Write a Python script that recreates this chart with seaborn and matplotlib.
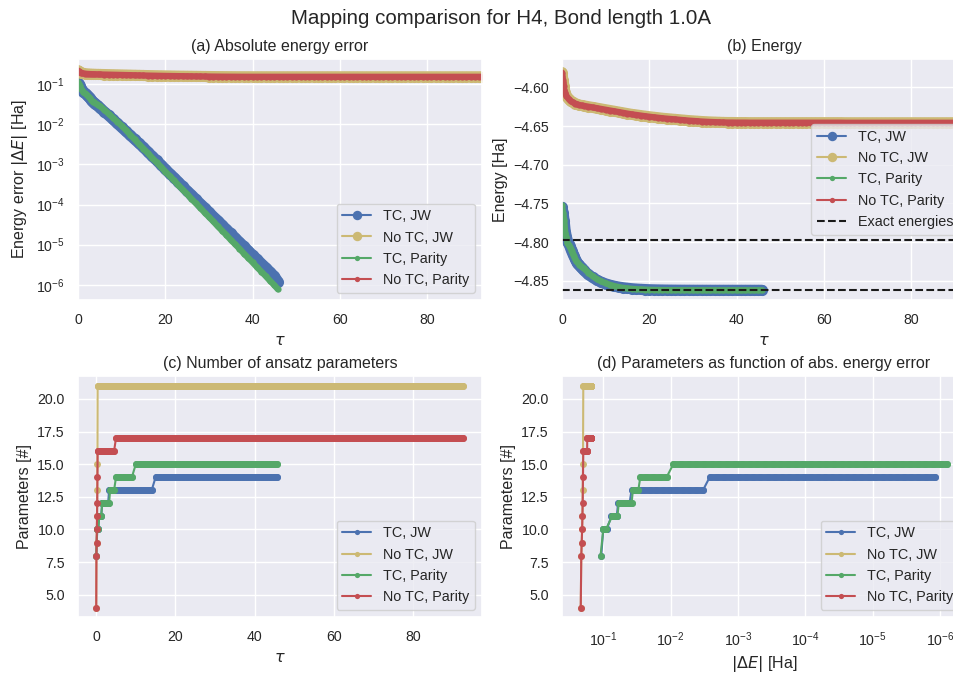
import matplotlib
matplotlib.use("Agg")
import numpy as np
import matplotlib.pyplot as plt
import seaborn as sns

sns.set_theme(style="darkgrid")
plt.rcParams["font.family"] = ["Liberation Sans", "DejaVu Sans"]
plt.rcParams.update({
    "axes.titlesize": 11.5,
    "axes.labelsize": 11.5,
    "xtick.labelsize": 10.2,
    "ytick.labelsize": 10.2,
    "legend.fontsize": 10.4,
})

# ---------------- data ----------------
# tau grid of the transcorrelated (TC) runs
tau_tc = [0, 0.25, 0.5, 0.75, 1, 1.25, 1.5, 1.75, 2, 2.25, 2.5, 2.75, 3, 3.25,
          3.5, 3.75, 4, 4.25, 4.5,
          5, 6, 7, 8, 9, 10, 11, 12, 13, 14, 15, 16, 17, 18, 19, 20, 21, 22,
          23, 24, 25, 26, 27, 28, 29, 30, 31, 32, 33, 34, 35, 36, 37, 38, 39,
          40, 41, 42, 43, 44, 45, 45.8]

# log10 |dE| for TC, JW
logerr_tc_jw = [-0.97, -1.00, -1.05, -1.12, -1.16, -1.20, -1.22, -1.24, -1.27,
                -1.30, -1.33, -1.36, -1.39, -1.42, -1.45, -1.47, -1.49, -1.52,
                -1.54,
                -1.59, -1.69, -1.78, -1.88, -1.98, -2.08, -2.18, -2.28, -2.38, -2.48,
                -2.58, -2.69, -2.80, -2.90, -3.01, -3.12, -3.23, -3.33, -3.44, -3.55,
                -3.66, -3.76, -3.87, -3.98, -4.08, -4.19, -4.30, -4.40, -4.51, -4.62,
                -4.72, -4.83, -4.94, -5.04, -5.15, -5.26, -5.36, -5.47, -5.57, -5.68,
                -5.79, -5.92]

# log10 |dE| for TC, Parity
logerr_tc_parity = [-0.96, -1.00, -1.04, -1.13, -1.16, -1.21, -1.23, -1.25, -1.27,
                    -1.30, -1.33, -1.36, -1.39, -1.42, -1.44, -1.46, -1.48, -1.50,
                    -1.52,
                    -1.55, -1.64, -1.74, -1.84, -1.94, -2.04, -2.15, -2.27, -2.38, -2.50,
                    -2.61, -2.72, -2.84, -2.95, -3.06, -3.18, -3.29, -3.40, -3.52, -3.63,
                    -3.74, -3.86, -3.97, -4.08, -4.20, -4.31, -4.42, -4.54, -4.65, -4.76,
                    -4.88, -4.99, -5.10, -5.22, -5.33, -5.44, -5.56, -5.67, -5.78, -5.90,
                    -6.01, -6.11]

params_tc_jw = [8, 10, 10, 11, 11, 11, 12, 12, 12, 12, 12, 12, 12] + [13] * 16 + [14] * 32
params_tc_parity = [8, 10, 10, 11, 11, 11] + [12] * 8 + [13] * 5 + [14] * 5 + [15] * 37

# tau grid of the runs without transcorrelation (No TC)
tau_notc = [0, 0.05, 0.1, 0.15, 0.2, 0.25, 0.3, 0.35, 0.5, 0.75, 1, 1.5, 2, 2.5,
            3, 3.5, 4, 4.5,
            5, 6, 7, 8, 9, 10, 11, 12, 13, 14, 15, 16, 17, 18, 19, 20, 21, 22,
            23, 24, 25, 26, 27, 28, 29, 30, 31, 32, 33, 34, 35, 36, 37, 38, 39,
            40, 41, 42, 43, 44, 45, 46, 47, 48, 49, 50, 51, 52, 53, 54, 55, 56,
            57, 58, 59, 60, 61, 62, 63, 64, 65, 66, 67, 68, 69, 70, 71, 72, 73,
            74, 75, 76, 77, 78, 79, 80, 81, 82, 83, 84, 85, 86, 87, 88, 89, 90,
            91, 92, 92.6]

# |dE| [Ha] for No TC, Parity
err_notc_parity = [0.216, 0.212, 0.209, 0.206, 0.204, 0.202, 0.200, 0.198, 0.194,
                   0.190, 0.186, 0.182, 0.179, 0.1775, 0.176, 0.175, 0.174, 0.1735,
                   0.173, 0.172, 0.171, 0.170, 0.169, 0.168, 0.167, 0.166, 0.165, 0.164,
                   0.163, 0.162, 0.1613, 0.1605, 0.1597, 0.159, 0.1583, 0.1577, 0.157, 0.1565,
                   0.156, 0.1555, 0.155, 0.1545, 0.154, 0.1536, 0.1532, 0.1528, 0.1525, 0.1522,
                   0.152, 0.1518, 0.1516, 0.1515, 0.1515, 0.1514, 0.1514, 0.1514, 0.1513, 0.1513,
                   0.1513, 0.1513, 0.1513, 0.1513, 0.1513, 0.1513, 0.1513, 0.1513, 0.1513, 0.1513,
                   0.1513, 0.1513, 0.1513, 0.1513, 0.1513, 0.1513, 0.1513, 0.1513, 0.1513, 0.1513,
                   0.1512, 0.1512, 0.1512, 0.1512, 0.1512, 0.1512, 0.1512, 0.1512, 0.1512, 0.1512,
                   0.1512, 0.1512, 0.1512, 0.1512, 0.1512, 0.1512, 0.1512, 0.1512, 0.1512, 0.1512,
                   0.1512, 0.1512, 0.1512, 0.1512, 0.1512, 0.1512, 0.1512, 0.1512, 0.1512]
# No TC, JW is indistinguishable from No TC, Parity in the picture
err_notc_jw = list(err_notc_parity)

params_notc_parity = [4, 8, 9, 10, 11, 12, 14] + [16] * 11 + [17] * 89
params_notc_jw = [4, 8, 9, 10, 11, 13, 15] + [21] * 100

# exact energies [Ha]
e_exact_tc = -4.862
e_exact_notc = -4.797

labels = ["TC, JW", "No TC, JW", "TC, Parity", "No TC, Parity"]
# ----------------------------------------------------------

deep = sns.color_palette("deep")
colors = [deep[0], deep[8], deep[2], deep[3]]

err_tc_jw = [10 ** v for v in logerr_tc_jw]
err_tc_parity = [10 ** v for v in logerr_tc_parity]

series = [
    dict(tau=tau_tc, err=err_tc_jw, par=params_tc_jw, exact=e_exact_tc, ms=8),
    dict(tau=tau_notc, err=err_notc_jw, par=params_notc_jw, exact=e_exact_notc, ms=8),
    dict(tau=tau_tc, err=err_tc_parity, par=params_tc_parity, exact=e_exact_tc, ms=4.5),
    dict(tau=tau_notc, err=err_notc_parity, par=params_notc_parity, exact=e_exact_notc, ms=4.5),
]

MS_LOW = 5


def const_runs(values):
    """Index ranges over which the parameter count stays constant."""
    cuts = [0] + [i for i in range(1, len(values)) if values[i] != values[i - 1]] + [len(values)]
    return [(cuts[k], cuts[k + 1]) for k in range(len(cuts) - 1)]


fig = plt.figure(figsize=(9.54, 6.77), dpi=100)
axA = fig.add_axes([0.0818, 0.5569, 0.4235, 0.356])
axB = fig.add_axes([0.5891, 0.5569, 0.4235, 0.356])
axC = fig.add_axes([0.0818, 0.0886, 0.4235, 0.356])
axD = fig.add_axes([0.5891, 0.0886, 0.4235, 0.356])

axA.set_yscale("log")
axD.set_xscale("log")

band = dict(sort=False, estimator=None, legend=False, solid_capstyle="round")

for s, lab, col in zip(series, labels, colors):
    energy = [s["exact"] + e for e in s["err"]]
    common = dict(color=col, marker="o", markeredgewidth=0, linewidth=1.5,
                  label=lab, sort=False, estimator=None)
    # dense sampled points merge into a solid band
    sns.lineplot(x=s["tau"], y=s["err"], ax=axA, color=col, linewidth=s["ms"], **band)
    sns.lineplot(x=s["tau"], y=s["err"], ax=axA, markersize=s["ms"], **common)
    sns.lineplot(x=s["tau"], y=energy, ax=axB, color=col, linewidth=s["ms"], **band)
    sns.lineplot(x=s["tau"], y=energy, ax=axB, markersize=s["ms"], **common)
    for a, b in const_runs(s["par"]):
        if b - a > 1:
            sns.lineplot(x=s["tau"][a:b], y=s["par"][a:b], ax=axC, color=col,
                         linewidth=MS_LOW, **band)
            sns.lineplot(x=s["err"][a:b], y=s["par"][a:b], ax=axD, color=col,
                         linewidth=MS_LOW, **band)
    sns.lineplot(x=s["tau"], y=s["par"], ax=axC, markersize=MS_LOW, **common)
    sns.lineplot(x=s["err"], y=s["par"], ax=axD, markersize=MS_LOW, **common)

axB.axhline(e_exact_notc, color="k", ls="--", lw=1.5, label="Exact energies")
axB.axhline(e_exact_tc, color="k", ls="--", lw=1.5)

tau_max = tau_notc[-1]
axA.set_xlim(0, tau_max)
axA.set_ylim(4.2e-7, 0.42)
axB.set_xlim(0, tau_max)
axB.set_ylim(-4.8745, -4.5635)
axC.set_xlim(-4.6, 97.5)
axC.set_ylim(3.3, 21.75)
axD.set_xlim(0.41, 4.1e-7)
axD.set_ylim(3.3, 21.75)

axA.set_title("(a) Absolute energy error")
axB.set_title("(b) Energy")
axC.set_title("(c) Number of ansatz parameters")
axD.set_title("(d) Parameters as function of abs. energy error")

axA.set_xlabel(r"$\tau$")
axB.set_xlabel(r"$\tau$")
axC.set_xlabel(r"$\tau$")
axD.set_xlabel(r"$|\Delta E|$ [Ha]")
axA.set_ylabel(r"Energy error $|\Delta E|$ [Ha]")
axB.set_ylabel("Energy [Ha]")
axC.set_ylabel("Parameters [#]")
axD.set_ylabel("Parameters [#]")

axA.legend(loc="lower right", markerscale=0.85)
axB.legend(loc="center right", markerscale=0.85)
axC.legend(loc="lower right", markerscale=0.75)
axD.legend(loc="lower right", markerscale=0.75)

fig.suptitle("Mapping comparison for H4, Bond length 1.0A", x=501 / 954,
             y=1 - 18 / 677, va="center", fontsize=14.8)

fig.savefig("out.png", dpi=100)
